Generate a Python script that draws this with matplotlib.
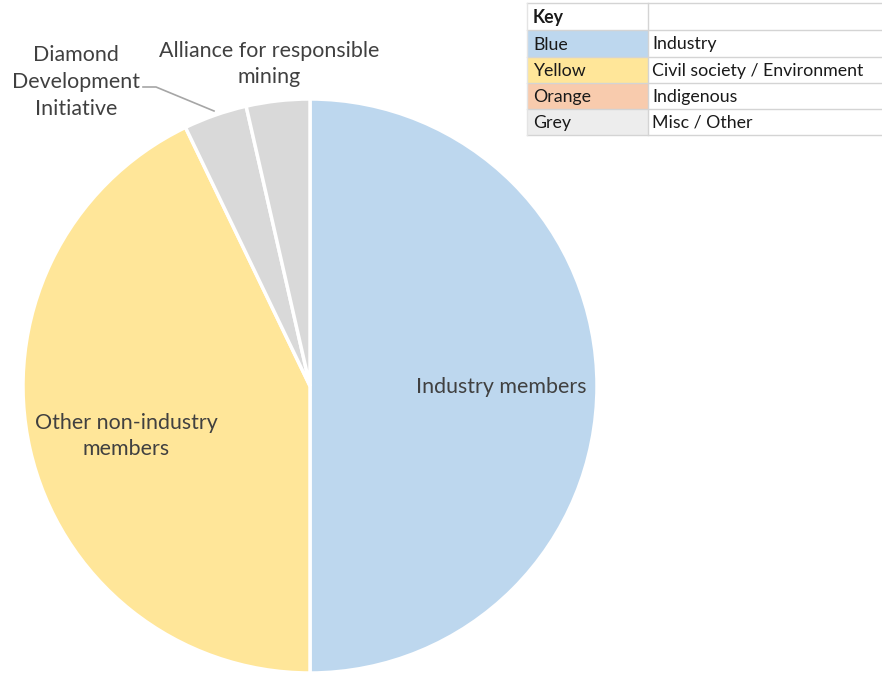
import matplotlib.pyplot as plt
from matplotlib.patches import Rectangle

plt.rcParams['font.family'] = ['Lato', 'DejaVu Sans']

# membership breakdown
labels = ['Industry members', 'Other non-industry\nmembers',
          'Diamond\nDevelopment\nInitiative', 'Alliance for responsible\nmining']
members = [14, 12, 1, 1]
colors = ['#BDD7EE', '#FFE699', '#D9D9D9', '#D9D9D9']

# colour key table
key_colours = ['Blue', 'Yellow', 'Orange', 'Grey']
key_groups = ['Industry', 'Civil society / Environment', 'Indigenous', 'Misc / Other']
key_fills = ['#BDD7EE', '#FFE699', '#F8CBAD', '#EDEDED']

W, H = 882, 674
fig = plt.figure(figsize=(W / 100, H / 100), dpi=100)
ax = fig.add_axes([0, 0, 1, 1])

cx, cy, r = 310, H - 386, 287
wedges, _ = ax.pie(members, colors=colors, startangle=90, counterclock=False,
                   center=(cx, cy), radius=r, frame=True,
                   wedgeprops=dict(edgecolor='white', linewidth=2.5))
ax.set_xlim(0, W)
ax.set_ylim(0, H)
ax.set_aspect('equal')
ax.axis('off')

txt = dict(color='#404040', fontsize=15.4, ha='center', va='center', linespacing=1.42)
ax.text(501, H - 387, labels[0], **txt)
ax.text(126, H - 436, labels[1], **txt)
ax.text(76, H - 82, labels[2], **txt)
ax.text(269, H - 64, labels[3], **txt)
# leader line for the DDI slice
ax.plot([143, 156, 214], [H - 87, H - 87, H - 111], color='#A6A6A6', lw=1.2)

# key table
x0, xm, x1 = 527, 648, 882
rows = [3, 30, 57, 83, 109, 135]
tk = dict(color='#1A1A1A', fontsize=12.8, va='center', ha='left')
ax.text(x0 + 6, H - (rows[0] + rows[1]) / 2 - 1, 'Key', fontweight='bold', **tk)
for i, (c, g, f) in enumerate(zip(key_colours, key_groups, key_fills)):
    top, bot = rows[i + 1], rows[i + 2]
    ax.add_patch(Rectangle((x0, H - bot), xm - x0, bot - top, facecolor=f,
                           edgecolor='none', zorder=1))
    ym = H - (top + bot) / 2 - 1
    ax.text(x0 + 6, ym, c, zorder=3, **tk)
    ax.text(xm + 4, ym, g, zorder=3, **tk)
for y in rows:
    ax.plot([x0, x1], [H - y, H - y], color='#D4D4D4', lw=1, zorder=2)
ax.plot([xm, xm], [H - rows[0], H - rows[-1]], color='#D4D4D4', lw=1, zorder=2)
ax.plot([x0, x0], [H - rows[0], H - rows[-1]], color='#E4E4E4', lw=1, zorder=2)

fig.savefig('out.png', dpi=100)
